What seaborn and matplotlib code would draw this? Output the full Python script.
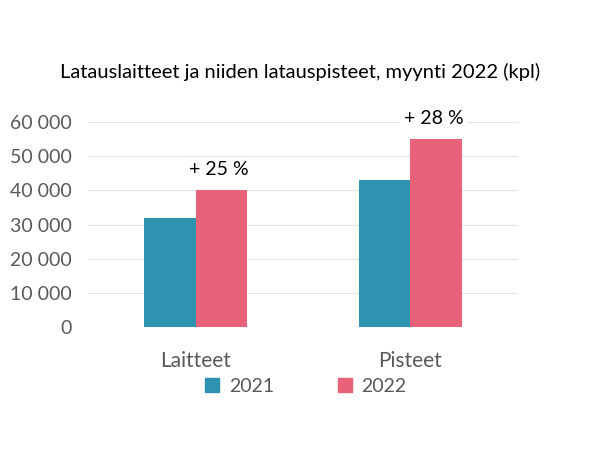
import numpy as np
import pandas as pd
import matplotlib
matplotlib.use("Agg")
import matplotlib.pyplot as plt
import seaborn as sns
from matplotlib.ticker import FuncFormatter
from matplotlib.patches import Patch

# data
categories = ["Laitteet", "Pisteet"]
years = ["2021", "2022"]
sales_2021 = [32000, 43000]
sales_2022 = [40000, 55000]
change_labels = ["+ 25 %", "+ 28 %"]

TEAL = "#2E93B1"
PINK = "#E8627A"
GREY = "#595959"

df = pd.DataFrame({
    "kategoria": categories * 2,
    "vuosi": [years[0]] * 2 + [years[1]] * 2,
    "myynti": sales_2021 + sales_2022,
})

sns.set_theme(style="white")
plt.rcParams["font.family"] = ["Lato", "DejaVu Sans"]

fig = plt.figure(figsize=(6, 4.5), dpi=100)
ax = fig.add_axes([0.147, 0.273, 0.716, 0.456])

sns.barplot(data=df, x="kategoria", y="myynti", hue="vuosi",
            palette=[TEAL, PINK], width=0.48, saturation=1,
            linewidth=0, ax=ax, legend=False)

ax.set_ylim(0, 60000)
ax.set_xlim(-0.5, 1.5)
ax.set_yticks(np.arange(0, 60001, 10000))
ax.yaxis.set_major_formatter(FuncFormatter(lambda v, p: f"{v:,.0f}".replace(",", " ")))
ax.grid(axis="y", color="#E3E3E3", linewidth=0.8)
ax.set_axisbelow(True)
for s in ax.spines.values():
    s.set_visible(False)
ax.tick_params(axis="y", length=0, labelsize=14, colors=GREY, pad=12)
ax.tick_params(axis="x", length=0, labelsize=15, colors=GREY, pad=17)
ax.set_xlabel("")
ax.set_ylabel("")

# prosenttimuutokset 2022-pylväiden yläpuolelle
bars_2022 = ax.containers[1]
for bar, lab in zip(bars_2022, change_labels):
    ax.annotate(lab, (bar.get_x() + bar.get_width() / 2, bar.get_height()),
                xytext=(-2, 9), textcoords="offset points",
                ha="center", va="bottom", fontsize=14, color="black",
                bbox=dict(boxstyle="square,pad=0.2", fc="white", ec="none"))

fig.text(0.5, 0.84, "Latauslaitteet ja niiden latauspisteet, myynti 2022 (kpl)",
         ha="center", va="center", fontsize=14.5, color="black")

handles = [Patch(color=TEAL, label=years[0]), Patch(color=PINK, label=years[1])]
fig.legend(handles=handles, loc="center", bbox_to_anchor=(0.51, 0.142), ncol=2,
           frameon=False, fontsize=14, labelcolor=GREY, handlelength=0.7,
           handleheight=0.7, handletextpad=0.5, columnspacing=3.3)

fig.savefig("out.png", dpi=100)
